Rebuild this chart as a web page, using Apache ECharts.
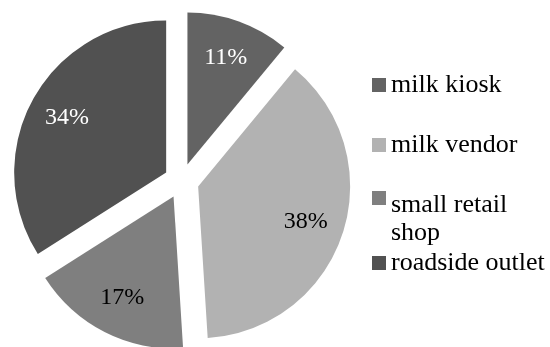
<!DOCTYPE html>
<html>
<head>
<meta charset="utf-8">
<style>
  html, body { margin: 0; padding: 0; background: #ffffff; }
  #chart { width: 550px; height: 347px; }
</style>
<script src="https://cdn.jsdelivr.net/npm/echarts@6/dist/echarts.min.js"></script>
</head>
<body>
<div id="chart"></div>
<script>
// Outlet shares (percent)
const categories = ['milk kiosk', 'milk vendor', 'small retail shop', 'roadside outlet'];
const shares = [11, 38, 17, 34];

// Slice fills and label colours, one per category
const sliceColors = ['#636363', '#b2b2b2', '#7f7f7f', '#515151'];
const labelColors = ['#ffffff', '#000000', '#000000', '#ffffff'];

const FONT = 'Liberation Serif';
const CENTER = [181.5, 181];
const RADIUS = 152;
const EXPLODE = 17.5;

const chart = echarts.init(document.getElementById('chart'), null, { renderer: 'canvas' });

const sliceData = categories.map((name, i) => ({
  name: name,
  value: shares[i],
  selected: true,
  itemStyle: { color: sliceColors[i] }
}));

// Transparent companion ring that only carries the percentage labels,
// so they sit further out than the slice midpoint.
const labelData = categories.map((name, i) => ({
  name: name,
  value: shares[i],
  selected: true,
  label: { color: labelColors[i] }
}));

// Square marker for a wrapped entry: the square sits at the top of a tall
// marker box, the zero-width tail only stretches the box downwards.
const TALL_SQUARE = 'path://M0,0L14,0L14,14L0,14Z M0,56L0,56.01';

// One legend block per entry so the vertical rhythm can follow the layout
const legendTops = [71, 131, 191, 249];
const legends = categories.map((name, i) => {
  const wrapped = i === 2;
  return {
    show: true,
    orient: 'vertical',
    left: 372,
    top: legendTops[i],
    padding: 0,
    itemWidth: 14,
    itemHeight: wrapped ? 56 : 14,
    itemGap: 0,
    textGap: 5,
    icon: wrapped ? TALL_SQUARE : 'rect',
    symbolKeepAspect: false,
    selectedMode: false,
    data: [name],
    textStyle: {
      fontFamily: FONT,
      fontSize: 26,
      color: '#000000',
      lineHeight: 28,
      width: 156,
      overflow: 'break'
    }
  };
});

chart.setOption({
  animation: false,
  backgroundColor: '#ffffff',
  legend: legends,
  series: [
    {
      type: 'pie',
      center: CENTER,
      radius: RADIUS,
      startAngle: 90,
      clockwise: true,
      selectedMode: 'multiple',
      selectedOffset: EXPLODE,
      avoidLabelOverlap: false,
      label: { show: false },
      labelLine: { show: false },
      emphasis: { disabled: true },
      data: sliceData
    },
    {
      type: 'pie',
      silent: true,
      center: CENTER,
      radius: RADIUS * 1.45,
      startAngle: 90,
      clockwise: true,
      selectedMode: 'multiple',
      selectedOffset: EXPLODE,
      avoidLabelOverlap: false,
      itemStyle: { color: 'rgba(0,0,0,0)' },
      legendHoverLink: false,
      label: {
        show: true,
        position: 'inside',
        formatter: '{c}%',
        fontFamily: FONT,
        fontSize: 24
      },
      labelLine: { show: false },
      emphasis: { disabled: true },
      data: labelData
    }
  ]
});
</script>
</body>
</html>
